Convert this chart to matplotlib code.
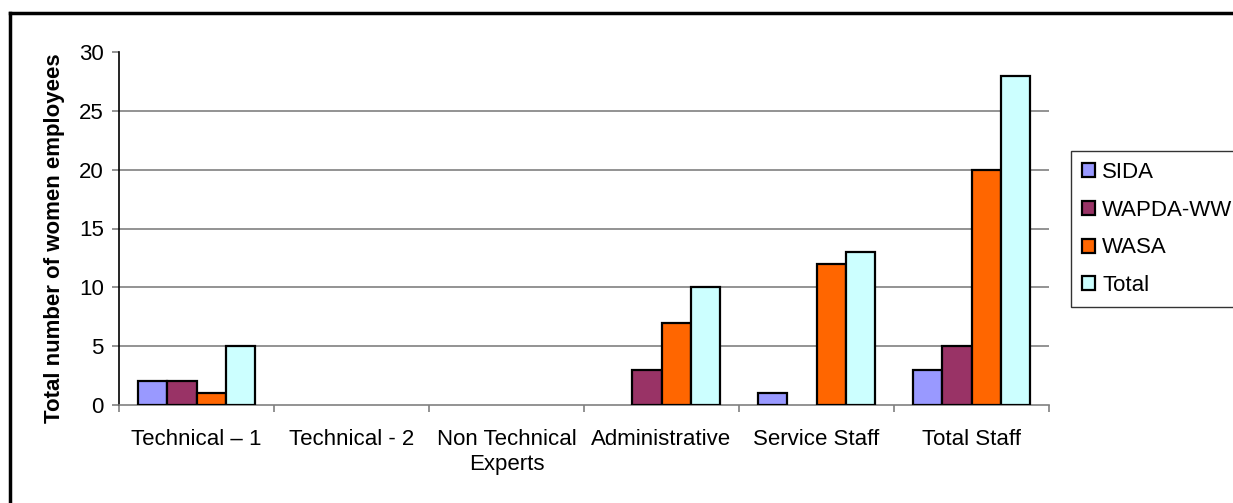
import matplotlib
matplotlib.use("Agg")
import matplotlib.pyplot as plt
from matplotlib.lines import Line2D
import numpy as np

plt.rcParams["font.family"] = ["Liberation Sans", "DejaVu Sans"]

# ── data ────────────────────────────────────────────────────────────────
categories = ["Technical \u2013 1", "Technical - 2", "Non Technical\nExperts",
              "Administrative", "Service Staff", "Total Staff"]
series_names = ["SIDA", "WAPDA-WW", "WASA", "Total"]
sida = [2, 0, 0, 0, 1, 3]
wapda = [2, 0, 0, 3, 0, 5]
wasa = [1, 0, 0, 7, 12, 20]
total = [5, 0, 0, 10, 13, 28]

colors = ["#9999FF", "#993366", "#FF6600", "#CCFFFF"]

W, H = 1233, 503
fig = plt.figure(figsize=(W / 100, H / 100), dpi=100)
ax = fig.add_axes([119 / W, 1 - 405 / H, (1049 - 119) / W, (405 - 52) / H])

x = np.arange(len(categories))
bw = 0.75 / 4
for i, (vals, name) in enumerate(zip([sida, wapda, wasa, total], series_names)):
    vals = np.array(vals)
    # zero-height bars leave no visible outline in the original
    lw = np.where(vals > 0, 1.6, 0.0)
    ax.bar(x - 0.375 + bw * (i + 0.5), vals, bw, color=colors[i],
           edgecolor="black", linewidth=lw, label=name, zorder=3)

ax.set_xlim(-0.5, len(categories) - 0.5)
ax.set_ylim(0, 30)
ax.set_yticks(range(0, 31, 5))
for yv in range(5, 30, 5):
    ax.axhline(yv, color="#808080", linewidth=1.2, zorder=1)

# category boundaries as major ticks, labels on minor ticks
ax.set_xticks(np.arange(-0.5, len(categories), 1.0))
ax.set_xticklabels([])
ax.set_xticks(x, minor=True)
ax.set_xticklabels(categories, minor=True, fontsize=16, linespacing=1.25)
ax.tick_params(axis="x", which="minor", length=0, pad=17)
ax.tick_params(axis="x", which="major", length=5, color="#808080", width=1.2)
ax.tick_params(axis="y", length=5, color="#808080", width=1.2, labelsize=16, pad=6)

for s in ["top", "right"]:
    ax.spines[s].set_visible(False)
for s in ["left", "bottom"]:
    ax.spines[s].set_color("#808080")
    ax.spines[s].set_linewidth(1.2)
ax.spines["left"].set_color("black")

ax.set_ylabel("Total number of women employees", fontsize=16,
              fontweight="bold", va="center")
ax.yaxis.set_label_coords(-0.069, 0.472)

leg = fig.legend(loc="upper left", bbox_to_anchor=(1071 / W, 1 - 151 / H),
                 frameon=True, fancybox=False, edgecolor="black",
                 fontsize=16, handlelength=0.6, handleheight=0.6,
                 handletextpad=0.3, labelspacing=0.75, borderpad=0.5,
                 borderaxespad=0)
leg.get_frame().set_linewidth(1.0)
for h in leg.legend_handles:
    h.set_linewidth(1.6)

# outer chart frame (top and left visible)
fig.add_artist(Line2D([10 / W, 1.0], [1 - 13 / H, 1 - 13 / H],
                      transform=fig.transFigure, color="black", linewidth=2.5))
fig.add_artist(Line2D([10 / W, 10 / W], [1 - 13 / H, 0.0],
                      transform=fig.transFigure, color="black", linewidth=2.5))

fig.savefig("out.png", dpi=100, facecolor="white")
